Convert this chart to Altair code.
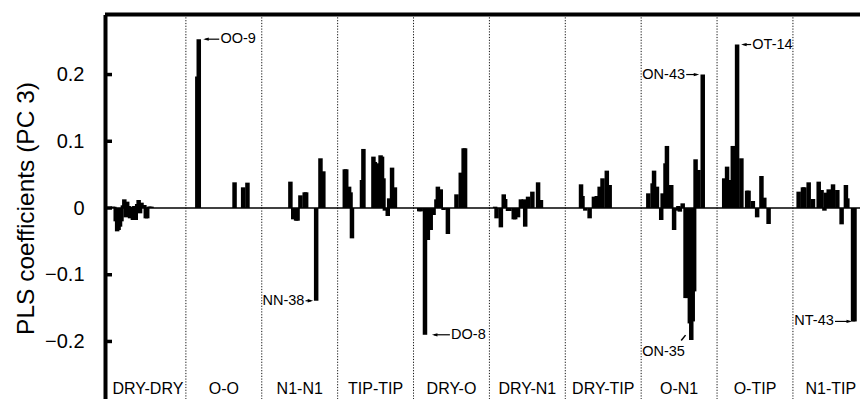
import altair as alt
import pandas as pd

# ---------------- data ----------------
GROUPS = ["DRY-DRY", "O-O", "N1-N1", "TIP-TIP", "DRY-O",
          "DRY-N1", "DRY-TIP", "O-N1", "O-TIP", "N1-TIP"]

# PLS coefficients, variables 1..45 of each block
DRY_DRY = [0, 0.002, 0.002, -0.020, -0.035, -0.033, -0.028, -0.020, 0.004, 0.013, -0.014, 0.0095, 0.003, -0.0155, 0.002,
           -0.018, 0.003, -0.018, 0.006, 0.012, -0.008, 0.008, 0.003, 0.0045, -0.0155, -0.0155, 0.002, 0.002, 0.002, 0,
           0, 0, 0, 0, 0, 0, 0, 0, 0, 0, 0, 0, 0, 0, 0]
O_O = [0, 0, 0, 0, 0, 0, 0, 0.197, 0.253, 0, 0, 0, 0, 0, 0,
       0, 0, 0, 0, 0, 0, 0, 0, 0, 0, 0, 0, 0, 0, 0,
       0, 0, 0, 0.0385, 0, 0, 0, 0, 0, 0.031, 0, 0, 0.038, 0, 0]
N1_N1 = [0, 0, 0, 0, 0, 0, 0, 0, 0, 0, 0, 0, 0, 0, 0,
         0, 0, 0, 0, 0.0395, 0, -0.017, 0, -0.019, -0.019, 0, 0.019, 0, 0, 0.0235,
         0.0235, 0, 0, 0, 0, 0, 0, -0.139, 0, 0, 0.0745, 0, 0.055, 0, 0]
TIP_TIP = [0, 0, 0, 0, 0.058, 0.058, 0, 0.032, 0.0235, -0.0455, 0, 0, 0, 0, 0,
           0, 0.042, 0.0885, 0, 0, 0, 0, 0, 0, 0.077, 0.069, 0, 0.067, 0, 0.079,
           0.077, 0.0445, -0.004, 0, -0.012, 0.0145, 0, 0.0605, 0, 0.031, 0, 0, 0, 0, 0]
DRY_O = [0, 0, 0, -0.005, -0.005, 0, 0, -0.19, 0, -0.048, 0, -0.033, 0, -0.0105, 0,
         0.013, 0.032, 0, 0.028, 0, -0.003, 0, 0, -0.039, 0, 0, 0, 0, 0, 0.0205,
         0, 0, 0.053, 0, 0.0895, 0.0895, 0, 0, 0, 0, 0, 0, 0, 0, 0]
DRY_N1 = [0, 0, 0, 0.002, -0.0155, 0, 0, -0.029, 0, 0.0205, 0.0135, 0, -0.0045, -0.0045, 0,
          0, -0.017, -0.017, 0, -0.014, 0, 0.013, 0, 0.013, -0.028, 0, 0.017, 0, 0, 0.0245,
          0, 0, 0, 0.0385, 0, 0.012, 0, 0, 0, 0, 0, 0, 0, 0, 0]
DRY_TIP = [0, 0, 0, 0, 0, 0, 0, 0, 0, 0, 0.0355, 0.018, 0, -0.004, 0,
           0, -0.0155, 0, 0, 0.017, 0, 0.018, 0, 0.032, 0, 0.0445, 0, 0, 0.056, 0,
           0.0345, 0, 0, 0, 0, 0, 0, 0, 0, 0, 0, 0, 0, 0, 0]
O_N1 = [0, 0, 0, 0, 0.022, 0, 0, 0.037, 0.056, 0, 0.032, 0, 0, -0.018, 0.022,
        0, 0.067, 0.093, 0, 0, 0.0345, 0, -0.033, 0, -0.004, 0.003, -0.0055, 0, 0.007, 0,
        -0.135, -0.135, 0, -0.173, -0.198, -0.17, -0.125, 0.073, 0, 0.057, 0, 0, 0.2, 0, 0]
O_TIP = [0, 0, 0, 0, 0.0445, 0, 0.062, 0, 0.042, 0, 0.093, 0, 0, 0.245, 0,
         0, 0.0745, 0, 0, 0, 0.026, 0.026, 0, 0, 0.0105, 0, 0, -0.014, 0, 0,
         0.048, 0, 0.0155, 0, 0, -0.024, 0, 0, 0, 0, 0, 0, 0, 0, 0]
N1_TIP = [0, 0, 0, 0.0245, 0, 0, 0.031, 0.031, 0, 0, 0.0385, 0, 0, 0.0135, 0,
          0, 0, 0.0395, 0.027, 0.027, 0, -0.004, 0.023, 0, 0.028, 0, 0, 0.0355, 0, 0,
          0.027, 0, 0, -0.0245, 0, 0, 0.0345, 0.0145, 0, 0, 0, -0.17, -0.17, 0, 0]

SERIES = [DRY_DRY, O_O, N1_N1, TIP_TIP, DRY_O, DRY_N1, DRY_TIP, O_N1, O_TIP, N1_TIP]

Y_TICKS = [-0.2, -0.1, 0, 0.1, 0.2]

# annotations: label, block index, variable number, side of text
ANN_TEXT = ["OO-9", "NN-38", "DO-8", "ON-43", "OT-14", "NT-43"]
ANN_GROUP = [1, 2, 4, 7, 8, 9]
ANN_VAR = [9, 38, 8, 43, 14, 43]
ANN_SIDE = ["right", "left", "right", "left", "right", "left"]
ANN_GAP = [2.5, 1.0, 5.0, 1.5, 2.0, 0.5]     # px between bar and arrow tip
ANN_LEN = [16, 7.5, 18, 13, 10, 17]         # px arrow length
SPECIAL_TEXT, SPECIAL_GROUP, SPECIAL_VAR = "ON-35", 7, 35

# ---------------- layout ----------------
W, H = 755, 387
GPX = 76.9                       # px per block
SLOTS = 53
YMIN, YMAX = -0.29, 0.29
YPX = H / (YMAX - YMIN)          # px per unit of coefficient
BAR_W = 4.5
FONT = "Liberation Sans, Arial, Helvetica, sans-serif"

rows = []
for g, vals in enumerate(SERIES):
    for k, v in enumerate(vals, start=1):
        if v != 0:
            rows.append({"pos": g + k / SLOTS, "value": v})
bars_df = pd.DataFrame(rows)

xs = alt.Scale(domain=[0, W / GPX], nice=False, zero=False)
ys = alt.Scale(domain=[YMIN, YMAX], nice=False, zero=False)
yaxis = alt.Axis(values=Y_TICKS, format=".1~f", ticks=False, grid=False,
                 domainWidth=4, domainColor="black", labelFontSize=20,
                 labelColor="black", labelPadding=21, labelFont=FONT,
                 title="PLS coefficients (PC 3)", titleFontSize=24.5,
                 titleFontWeight="normal", titleColor="black", titleFont=FONT,
                 titlePadding=6)


def X(f="pos"):
    return alt.X(f"{f}:Q", scale=xs, axis=None)


def Y(f="value"):
    return alt.Y(f"{f}:Q", scale=ys, axis=yaxis, title="PLS coefficients (PC 3)")


# separators
sep_df = pd.DataFrame({"pos": list(range(1, len(GROUPS)))})
seps = alt.Chart(sep_df).mark_rule(color="#111", strokeWidth=1, strokeDash=[1.2, 1.6]).encode(
    x=X(), y=alt.value(0), y2=alt.value(H))

zero_df = pd.DataFrame({"value": [0.0]})
zero = alt.Chart(zero_df).mark_rule(color="black", strokeWidth=1.3).encode(
    y=Y(), x=alt.value(0), x2=alt.value(W))

bars = alt.Chart(bars_df).mark_bar(size=BAR_W, color="black", orient="vertical").encode(
    x=X(), y=Y())

# annotations
shaft_rows, head_rows, tl_rows, tr_rows = [], [], [], []
for t, g, var, side, gap, ln in zip(ANN_TEXT, ANN_GROUP, ANN_VAR, ANN_SIDE, ANN_GAP, ANN_LEN):
    v = SERIES[g][var - 1]
    xc = g + var / SLOTS
    s = 1 if side == "right" else -1
    tip = xc + s * (BAR_W / 2 + gap) / GPX
    end = tip + s * ln / GPX
    shaft_rows.append({"pos": tip + s * 2 / GPX, "pos2": end, "value": v})
    head_rows.append({"pos": tip + s * 2.6 / GPX, "value": v,
                      "dir": "left" if side == "right" else "right"})
    trow = {"pos": end + s * 1.2 / GPX, "value": v, "label": t}
    (tl_rows if side == "right" else tr_rows).append(trow)

v35 = SERIES[SPECIAL_GROUP][SPECIAL_VAR - 1]
xc35 = SPECIAL_GROUP + SPECIAL_VAR / SLOTS
tr_rows.append({"pos": xc35 - 6.5 / GPX, "value": v35 - 11.4 / YPX, "label": SPECIAL_TEXT})
slant_df = pd.DataFrame({"pos": [xc35 - 10.2 / GPX], "pos2": [xc35 - 5.8 / GPX],
                         "value": [v35 - 0.3 / YPX], "value2": [v35 + 5.0 / YPX]})

shafts = alt.Chart(pd.DataFrame(shaft_rows)).mark_rule(color="black", strokeWidth=1.2).encode(
    x=X(), x2="pos2:Q", y=Y())
PATH_L = "M-1,0L1,-0.6L1,0.6Z"
PATH_R = "M1,0L-1,-0.6L-1,0.6Z"
heads = alt.Chart(pd.DataFrame(head_rows)).mark_point(filled=True, color="black", opacity=1, size=30).encode(
    x=X(), y=Y(),
    shape=alt.Shape("dir:N", scale=alt.Scale(domain=["left", "right"], range=[PATH_L, PATH_R]), legend=None))
slant = alt.Chart(slant_df).mark_rule(color="black", strokeWidth=1.5).encode(
    x=X(), x2="pos2:Q", y=Y(), y2="value2:Q")

txt_l = alt.Chart(pd.DataFrame(tl_rows)).mark_text(align="left", baseline="middle", fontSize=14.5,
                                                    font=FONT, color="black").encode(
    x=X(), y=Y(), text="label:N")
txt_r = alt.Chart(pd.DataFrame(tr_rows)).mark_text(align="right", baseline="middle", fontSize=14.5,
                                                    font=FONT, color="black").encode(
    x=X(), y=Y(), text="label:N")

# block labels
lab_df = pd.DataFrame({"pos": [g + 0.5 for g in range(len(GROUPS))], "label": GROUPS})
labels = alt.Chart(lab_df).mark_text(align="center", baseline="middle", fontSize=16,
                                     font=FONT, color="black").encode(
    x=X(), y=alt.value(374), text="label:N")

# inward y ticks and top frame
tick_df = pd.DataFrame({"value": Y_TICKS})
ticks = alt.Chart(tick_df).mark_rule(color="black", strokeWidth=3.5).encode(
    y=Y(), x=alt.value(0), x2=alt.value(7))
top_df = pd.DataFrame({"value": [YMAX]})
top = alt.Chart(top_df).mark_rule(color="black", strokeWidth=4).encode(
    y=Y(), x=alt.value(0), x2=alt.value(W))

chart = alt.layer(seps, zero, bars, shafts, heads, slant, txt_l, txt_r, labels, ticks, top).properties(
    width=W, height=H,
    padding={"left": 97, "top": 6.5, "right": 0, "bottom": 0},
    autosize=alt.AutoSizeParams(type="none"),
    background="white",
).configure_view(stroke=None)

chart.save("out.html", embed_options={"renderer": "svg", "actions": False})
